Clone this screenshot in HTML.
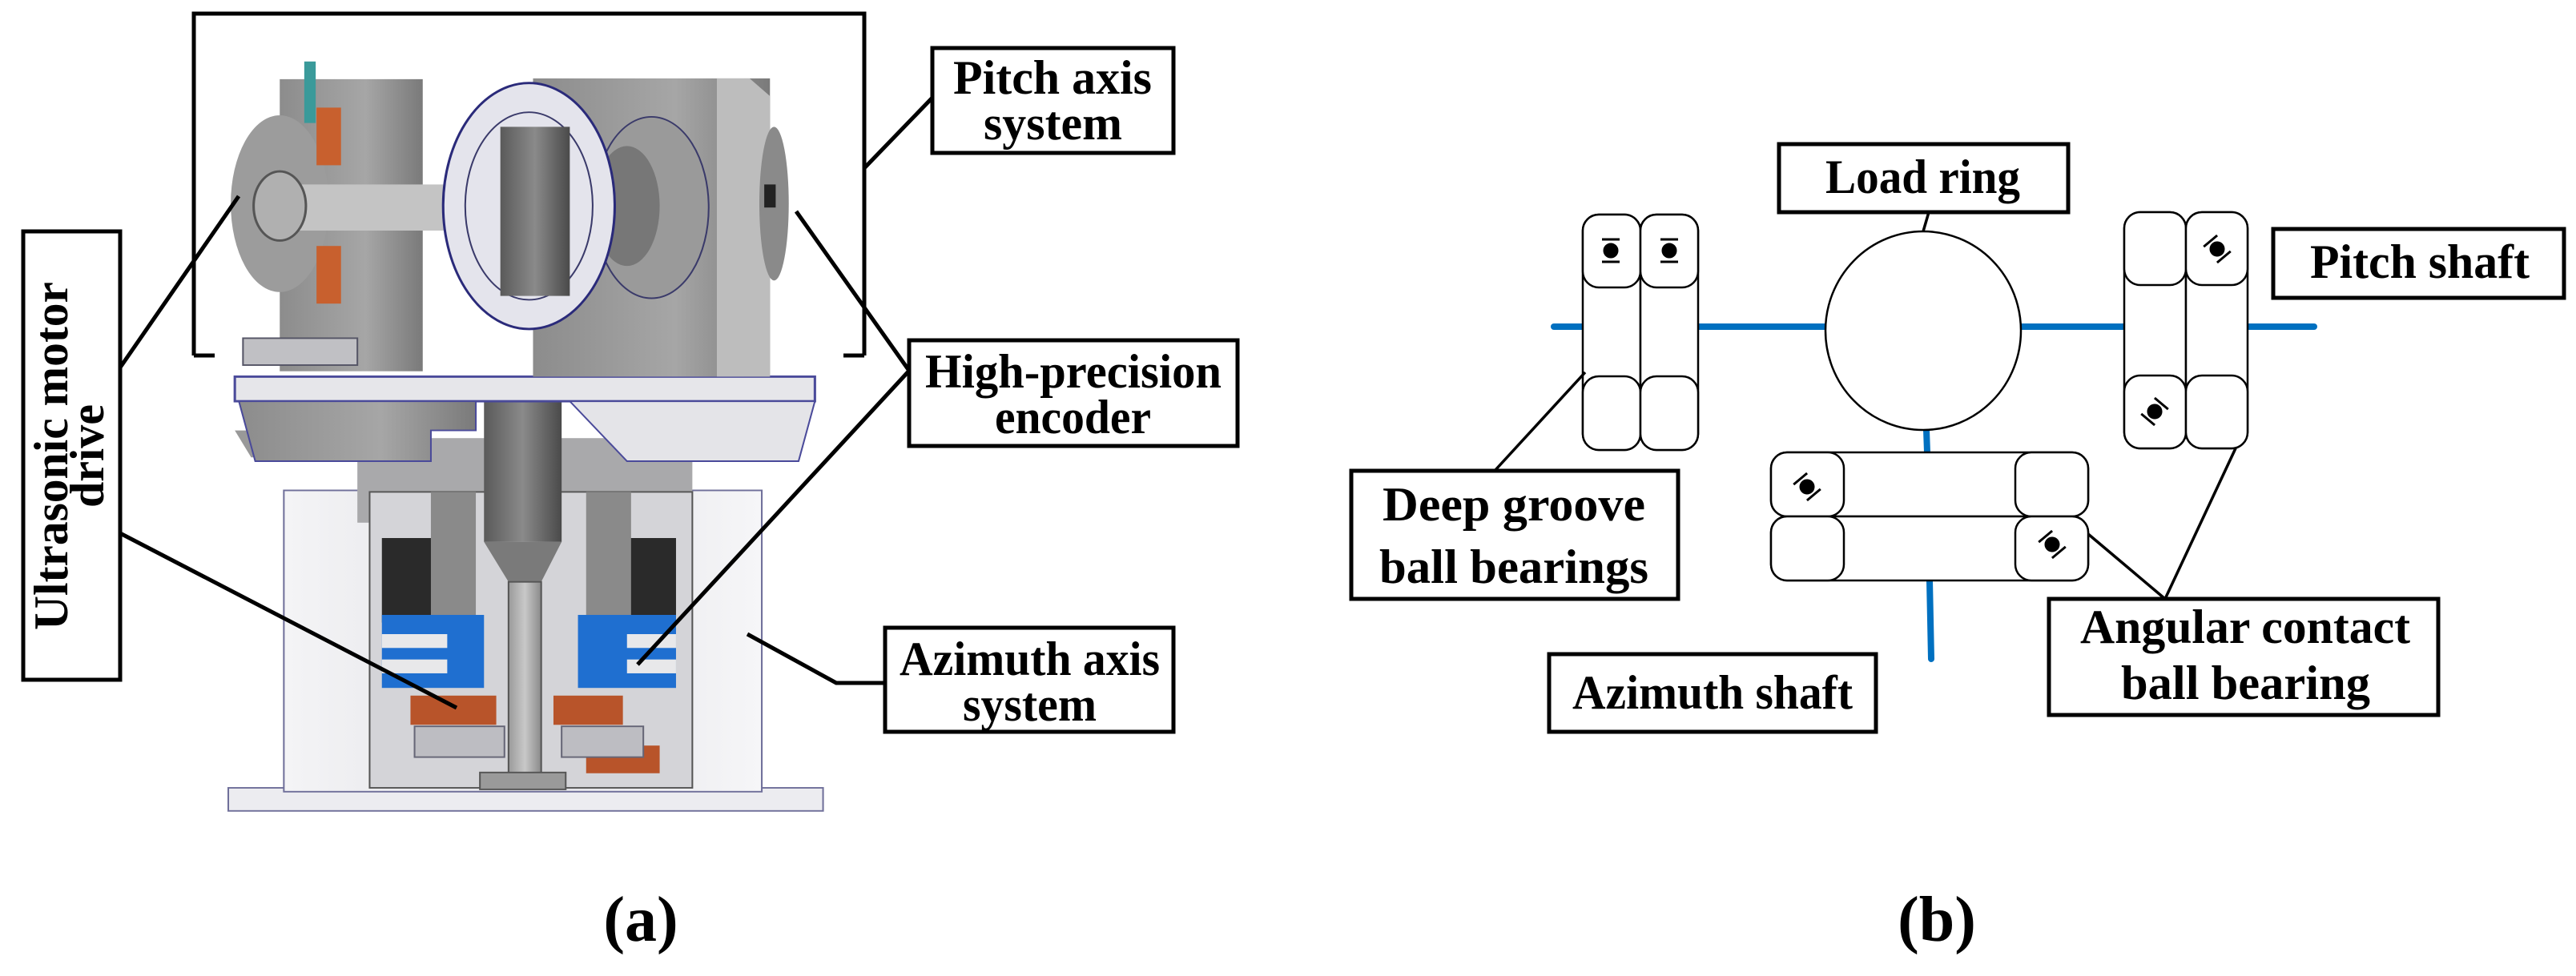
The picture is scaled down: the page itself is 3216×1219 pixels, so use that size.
<!DOCTYPE html>
<html><head><meta charset="utf-8"><style>
html,body{margin:0;padding:0;background:#fff}
svg{display:block}
text{font-family:"Liberation Serif",serif;font-weight:bold;fill:#000}
</style></head><body>
<svg width="3216" height="1219" viewBox="0 0 3216 1219" xmlns="http://www.w3.org/2000/svg">
<defs>
<linearGradient id="gv" x1="0" x2="1"><stop offset="0" stop-color="#9a9a9a"/><stop offset="0.5" stop-color="#c8c8c8"/><stop offset="1" stop-color="#8a8a8a"/></linearGradient>
<linearGradient id="gd" x1="0" x2="1"><stop offset="0" stop-color="#5a5a5a"/><stop offset="0.5" stop-color="#8a8a8a"/><stop offset="1" stop-color="#4a4a4a"/></linearGradient>
<linearGradient id="gb" x1="0" x2="1"><stop offset="0" stop-color="#f4f4f6"/><stop offset="0.5" stop-color="#e2e2e6"/><stop offset="1" stop-color="#f6f6f8"/></linearGradient>
<linearGradient id="gr" x1="0" x2="1"><stop offset="0" stop-color="#8c8c8c"/><stop offset="0.6" stop-color="#a6a6a6"/><stop offset="1" stop-color="#7a7a7a"/></linearGradient>
</defs>

<!-- ===== Machine (a) ===== -->
<g transform="translate(285,0) scale(1.02,0.96) translate(-282,0)">
<rect x="282" y="1025" width="728" height="30" fill="#ececf0" stroke="#6f6f9a" stroke-width="2"/>
<rect x="350" y="638" width="585" height="392" fill="url(#gb)" stroke="#6f6f9a" stroke-width="2"/>
<rect x="440" y="570" width="410" height="110" fill="#a9a9ab"/>
<rect x="455" y="640" width="395" height="385" fill="#d4d4d8" stroke="#555" stroke-width="2"/>
<rect x="470" y="700" width="75" height="110" fill="#2a2a2a"/>
<rect x="770" y="700" width="60" height="110" fill="#2a2a2a"/>
<rect x="530" y="640" width="55" height="160" fill="#8a8a8a"/>
<rect x="720" y="640" width="55" height="160" fill="#8a8a8a"/>
<rect x="470" y="800" width="125" height="95" fill="#1f6fd0"/>
<rect x="470" y="825" width="80" height="18" fill="#e8e8ea"/>
<rect x="470" y="858" width="80" height="18" fill="#e8e8ea"/>
<rect x="710" y="800" width="120" height="95" fill="#1f6fd0"/>
<rect x="770" y="825" width="60" height="18" fill="#e8e8ea"/>
<rect x="770" y="858" width="60" height="18" fill="#e8e8ea"/>
<rect x="505" y="905" width="105" height="38" fill="#b8542a"/>
<rect x="680" y="905" width="85" height="38" fill="#b8542a"/>
<rect x="720" y="970" width="90" height="36" fill="#b8542a"/>
<rect x="510" y="945" width="110" height="40" fill="#bdbdc2" stroke="#667" stroke-width="2"/>
<rect x="690" y="945" width="100" height="40" fill="#bdbdc2" stroke="#667" stroke-width="2"/>
<rect x="595" y="495" width="95" height="210" fill="url(#gd)"/>
<polygon points="595,705 690,705 665,757 625,757" fill="#7a7a7a"/>
<rect x="625" y="757" width="40" height="255" fill="url(#gv)" stroke="#555" stroke-width="2"/>
<rect x="590" y="1005" width="105" height="22" fill="#9a9a9a" stroke="#555" stroke-width="2"/>
<polygon points="290,560 310,595 530,595 530,560" fill="#999"/>
<rect x="290" y="490" width="710" height="32" fill="#e6e6ea" stroke="#4a4a9a" stroke-width="3"/>
<polygon points="295,522 585,522 585,560 530,560 530,600 315,600" fill="url(#gr)" stroke="#4a4a9a" stroke-width="2"/>
<polygon points="700,522 1000,522 980,600 770,600" fill="#e4e4e8" stroke="#4a4a9a" stroke-width="2"/>
<rect x="655" y="102" width="290" height="388" fill="url(#gr)"/>
<polygon points="880,102 920,102 945,125 945,490 880,490" fill="#bdbdbd"/>
<ellipse cx="950" cy="265" rx="18" ry="100" fill="#8a8a8a"/>
<rect x="938" y="240" width="14" height="30" fill="#222"/>
<ellipse cx="800" cy="270" rx="70" ry="118" fill="#9a9a9a" stroke="#3a3a6a" stroke-width="2"/>
<ellipse cx="770" cy="268" rx="40" ry="78" fill="#777"/>
<rect x="345" y="103" width="175" height="380" fill="url(#gr)"/>
<ellipse cx="345" cy="265" rx="60" ry="115" fill="#9c9c9c"/>
<rect x="350" y="240" width="200" height="60" fill="#c4c4c4"/>
<ellipse cx="345" cy="268" rx="32" ry="45" fill="#b0b0b0" stroke="#555" stroke-width="3"/>
<rect x="375" y="80" width="14" height="80" fill="#3a9a9a"/>
<rect x="390" y="140" width="30" height="75" fill="#c8602e"/>
<rect x="390" y="320" width="30" height="75" fill="#c8602e"/>
<rect x="300" y="440" width="140" height="35" fill="#c0c0c4" stroke="#556" stroke-width="2"/>
<ellipse cx="650" cy="268" rx="105" ry="160" fill="#e4e4ec" stroke="#2a2a7a" stroke-width="3"/>
<ellipse cx="650" cy="268" rx="78" ry="122" fill="none" stroke="#3a3a6a" stroke-width="2"/>
<rect x="615" y="165" width="85" height="220" fill="url(#gd)"/>
</g>

<!-- ===== Labels (a) ===== -->
<g fill="none" stroke="#000" stroke-width="5">
<polyline points="242,444 242,17 1079,17 1079,444"/>
<line x1="242" y1="444" x2="268" y2="444"/>
<line x1="1053" y1="444" x2="1079" y2="444"/>
<line x1="1079" y1="210" x2="1164" y2="122"/>
<line x1="150" y1="459" x2="298" y2="245"/>
<line x1="150" y1="666" x2="570" y2="884"/>
<line x1="1135" y1="463" x2="994" y2="264"/>
<line x1="1135" y1="463" x2="796" y2="830"/>
<polyline points="1105,853 1044,853 933,792"/>
</g>
<g fill="#fff" stroke="#000" stroke-width="5">
<rect x="1164" y="60" width="301" height="131"/>
<rect x="1135" y="425" width="410" height="132"/>
<rect x="1105" y="784" width="360" height="130"/>
<rect x="29" y="289" width="121" height="560"/>
</g>
<g font-size="60">
<text x="1190" y="117" textLength="248" lengthAdjust="spacingAndGlyphs">Pitch  axis</text>
<text x="1228" y="174" textLength="173" lengthAdjust="spacingAndGlyphs">system</text>
<text x="1155" y="484" textLength="370" lengthAdjust="spacingAndGlyphs">High-precision</text>
<text x="1242" y="541" textLength="195" lengthAdjust="spacingAndGlyphs">encoder</text>
<text x="1123" y="843" textLength="325" lengthAdjust="spacingAndGlyphs">Azimuth axis</text>
<text x="1202" y="900" textLength="167" lengthAdjust="spacingAndGlyphs">system</text>
<text transform="translate(84,787) rotate(-90)" textLength="435" lengthAdjust="spacingAndGlyphs">Ultrasonic motor</text>
<text transform="translate(129,634) rotate(-90)" textLength="129" lengthAdjust="spacingAndGlyphs">drive</text>
</g>
<text x="800" y="1175" font-size="80" text-anchor="middle" font-weight="normal">(<tspan font-weight="bold">a</tspan>)</text>

<!-- ===== Diagram (b) ===== -->
<g stroke="#0070c0" stroke-width="8" stroke-linecap="round">
<line x1="1940" y1="408" x2="2889" y2="408"/>
<line x1="2405" y1="537" x2="2406" y2="565"/>
<line x1="2409" y1="725" x2="2411" y2="823"/>
</g>
<g fill="#fff" stroke="#000" stroke-width="2.5">
<ellipse cx="2401" cy="413" rx="122" ry="124"/>
<rect x="1976" y="268" width="72" height="294" rx="20"/>
<rect x="2048" y="268" width="72" height="294" rx="20"/>
<rect x="1976" y="268" width="72" height="91" rx="20"/>
<rect x="2048" y="268" width="72" height="91" rx="20"/>
<rect x="1976" y="470" width="72" height="92" rx="20"/>
<rect x="2048" y="470" width="72" height="92" rx="20"/>
<rect x="2652" y="265" width="77" height="295" rx="20"/>
<rect x="2729" y="265" width="77" height="295" rx="20"/>
<rect x="2652" y="265" width="77" height="91" rx="20"/>
<rect x="2729" y="265" width="77" height="91" rx="20"/>
<rect x="2652" y="469" width="77" height="91" rx="20"/>
<rect x="2729" y="469" width="77" height="91" rx="20"/>
<rect x="2211" y="565" width="396" height="80" rx="20"/>
<rect x="2211" y="645" width="396" height="80" rx="20"/>
<rect x="2211" y="565" width="91" height="80" rx="20"/>
<rect x="2516" y="565" width="91" height="80" rx="20"/>
<rect x="2211" y="645" width="91" height="80" rx="20"/>
<rect x="2516" y="645" width="91" height="80" rx="20"/>
</g>
<g fill="#000" stroke="#000" stroke-width="3">
<circle cx="2011" cy="313" r="8"/><line x1="2000" y1="299" x2="2022" y2="299"/><line x1="2000" y1="327" x2="2022" y2="327"/>
<circle cx="2084" cy="313" r="8"/><line x1="2073" y1="299" x2="2095" y2="299"/><line x1="2073" y1="327" x2="2095" y2="327"/>
<g transform="translate(2768,311) rotate(-40)"><circle r="8"/><line x1="-11" y1="-13" x2="11" y2="-13"/><line x1="-11" y1="13" x2="11" y2="13"/></g>
<g transform="translate(2690,514) rotate(40)"><circle r="8"/><line x1="-11" y1="-13" x2="11" y2="-13"/><line x1="-11" y1="13" x2="11" y2="13"/></g>
<g transform="translate(2256,608) rotate(-40)"><circle r="8"/><line x1="-11" y1="-13" x2="11" y2="-13"/><line x1="-11" y1="13" x2="11" y2="13"/></g>
<g transform="translate(2562,680) rotate(-40)"><circle r="8"/><line x1="-11" y1="-13" x2="11" y2="-13"/><line x1="-11" y1="13" x2="11" y2="13"/></g>
</g>
<g fill="none" stroke="#000" stroke-width="3.5">
<line x1="1979" y1="465" x2="1866" y2="588"/>
<line x1="2607" y1="667" x2="2703" y2="748"/>
<line x1="2791" y1="560" x2="2703" y2="748"/>
<line x1="2401" y1="289" x2="2408" y2="265"/>
</g>
<g fill="#fff" stroke="#000" stroke-width="5">
<rect x="2221" y="180" width="361" height="85"/>
<rect x="2838" y="286" width="363" height="86"/>
<rect x="1687" y="588" width="408" height="160"/>
<rect x="1934" y="817" width="408" height="97"/>
<rect x="2558" y="748" width="486" height="145"/>
</g>
<g font-size="60">
<text x="2279" y="241" textLength="243" lengthAdjust="spacingAndGlyphs">Load ring</text>
<text x="2884" y="347" textLength="274" lengthAdjust="spacingAndGlyphs">Pitch shaft</text>
<text x="1726" y="650" textLength="328" lengthAdjust="spacingAndGlyphs">Deep groove</text>
<text x="1722" y="728" textLength="336" lengthAdjust="spacingAndGlyphs">ball bearings</text>
<text x="1963" y="885" textLength="350" lengthAdjust="spacingAndGlyphs" font-weight="normal">Azimuth shaft</text>
<text x="2597" y="803" textLength="412" lengthAdjust="spacingAndGlyphs">Angular contact</text>
<text x="2648" y="873" textLength="311" lengthAdjust="spacingAndGlyphs">ball bearing</text>
</g>
<text x="2418" y="1175" font-size="80" text-anchor="middle" font-weight="normal">(<tspan font-weight="bold">b</tspan>)</text>
</svg>
</body></html>
